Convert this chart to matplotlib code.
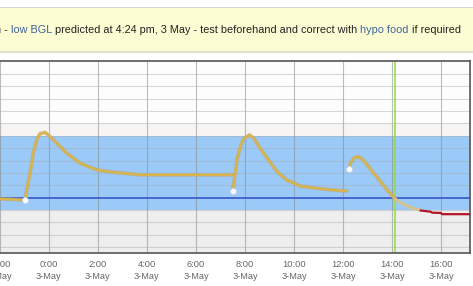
import matplotlib
matplotlib.use('Agg')
import matplotlib.pyplot as plt
import numpy as np

# hours are relative to 0:00 on 3 May
tick_hours = [-2, 0, 2, 4, 6, 8, 10, 12, 14, 16]
tick_labels = ['22:00\n2-May', '0:00\n3-May', '2:00\n3-May', '4:00\n3-May', '6:00\n3-May',
               '8:00\n3-May', '10:00\n3-May', '12:00\n3-May', '14:00\n3-May', '16:00\n3-May']

# measured BGL trace (three sensor segments)
seg1_hours = [-2.0, -1.5, -0.97, -0.69, -0.63, -0.49, -0.36, -0.15, 0.05, 0.33, 0.74, 1.28, 1.96, 2.78, 3.73, 5.36, 7.47]
seg1_bgl = [4.90, 4.86, 4.80, 7.78, 8.62, 9.67, 10.16, 10.28, 9.94, 9.41, 8.59, 7.78, 7.24, 7.02, 6.84, 6.84, 6.84]

seg2_hours = [7.49, 7.58, 7.67, 7.81, 7.94, 8.18, 8.35, 8.62, 8.90, 9.31, 9.71, 10.26, 10.94, 11.60, 12.15]
seg2_bgl = [5.55, 6.69, 8.05, 9.13, 9.73, 10.08, 9.81, 9.00, 8.19, 7.10, 6.42, 5.93, 5.75, 5.61, 5.53]

seg3_hours = [12.22, 12.30, 12.43, 12.60, 12.78, 12.98, 13.25, 13.52, 13.80, 14.07, 14.34, 14.75, 15.16]
seg3_bgl = [7.32, 7.78, 8.19, 8.32, 8.11, 7.64, 6.97, 6.28, 5.61, 4.98, 4.58, 4.20, 3.98]

# dose / food markers
dot_hours = [-0.97, 7.49, 12.22]
dot_bgl = [4.80, 5.55, 7.32]

# predicted low
pred_hours = [15.16, 15.56, 15.63, 15.97, 16.04, 17.4]
pred_bgl = [3.96, 3.86, 3.78, 3.76, 3.66, 3.66]

now_hour = 14.12
target_low, target_high = 4, 10
low_line = 5

banner_pieces = [('n -', '#222222'), (' low BGL', '#3f6396'),
                 (' predicted at 4:24 pm, 3 May - test beforehand and correct with', '#222222'),
                 (' hypo food', '#3f6396'), (' if required', '#222222')]

W, H = 473, 286
fig = plt.figure(figsize=(W / 100, H / 100), dpi=100)

# --- yellow alert banner ---
bax = fig.add_axes([0, 1 - 52 / H, 1, 45 / H])
bax.set_facecolor('#fdfdd4')
bax.set_xticks([])
bax.set_yticks([])
for side in ['left', 'right']:
    bax.spines[side].set_visible(False)
bax.spines['top'].set_color('#d8d8d8')
bax.spines['top'].set_linewidth(0.8)
bax.spines['bottom'].set_color('#e2e0c8')
bax.spines['bottom'].set_linewidth(1.5)

font = dict(fontsize=7.85, family='Liberation Sans')
renderer = fig.canvas.get_renderer()
x0 = -4.5
y_base = 1 - 33.5 / H
for i, (txt, col) in enumerate(banner_pieces):
    prefix = ''.join(p for p, _ in banner_pieces[:i])
    w = 0
    if prefix:
        tmp = fig.text(0, 0, prefix, **font)
        w = tmp.get_window_extent(renderer).width
        tmp.remove()
    fig.text((x0 + w) / W, y_base, txt, color=col, va='baseline', ha='left', **font)

# --- BGL chart ---
px_per_hour = 24.54
x_left, x_right = -10, 470
h0 = 48.7
ax = fig.add_axes([x_left / W, 1 - 253 / H, (x_right - x_left) / W, 192 / H])
ax.set_xlim((x_left - h0) / px_per_hour, (x_right - h0) / px_per_hour)
ax.set_ylim(0.52, 16.05)
ax.set_facecolor('#fdfdfd')

ax.axhspan(0, target_low, color='#eeeeee', lw=0, zorder=0.5)
ax.axhspan(target_low, target_high, color='#9ccaf8', lw=0, zorder=0.5)
ax.axhspan(target_high, target_high + 1, color='#f7f5f3', lw=0, zorder=0.5)

ax.set_yticks(range(1, 16))
ax.set_xticks(tick_hours, tick_labels)
ax.grid(axis='y', color='#aaaaaa', alpha=0.45, lw=0.8)
ax.grid(axis='x', color='#888888', alpha=0.55, lw=0.8)
ax.tick_params(axis='y', left=False, labelleft=False)
ax.tick_params(axis='x', length=0, pad=5, labelsize=6.7, labelcolor='#666666')
for lab in ax.get_xticklabels():
    lab.set_linespacing(1.5)
    lab.set_family('Liberation Sans')

ax.axhline(low_line, color='#3556cf', lw=1.2, zorder=2)
ax.axvline(now_hour, color='#8fe03a', lw=1.1, zorder=2.2)

gold = '#d8b54c'
for hrs, vals in [(seg1_hours, seg1_bgl), (seg2_hours, seg2_bgl)]:
    ax.plot(hrs, vals, color='#b9a574', lw=2.7, alpha=0.6, zorder=3, solid_capstyle='round')
    ax.plot(hrs, vals, color=gold, lw=1.7, zorder=3.1, solid_capstyle='round')

h3 = np.array(seg3_hours)
v3 = np.array(seg3_bgl)
past = h3 <= now_hour + 0.1
ax.plot(h3[past], v3[past], color='#b9a574', lw=2.7, alpha=0.6, zorder=3, solid_capstyle='round')
ax.plot(h3[past], v3[past], color=gold, lw=1.7, zorder=3.1, solid_capstyle='round')
fut = h3 >= now_hour - 0.1
ax.plot(h3[fut], v3[fut], color='#d6c290', lw=2.2, zorder=3, solid_capstyle='round')

ax.plot(pred_hours, pred_bgl, color='#b01528', lw=1.6, zorder=3.2)

ax.scatter(dot_hours, dot_bgl, s=18, color='white', edgecolors='#c8d4e6', linewidths=0.6, zorder=4)

ax.spines['left'].set_visible(False)
for side in ['top', 'right', 'bottom']:
    ax.spines[side].set_color('#555555')
    ax.spines[side].set_linewidth(1.2)

fig.savefig('out.png', dpi=100)
